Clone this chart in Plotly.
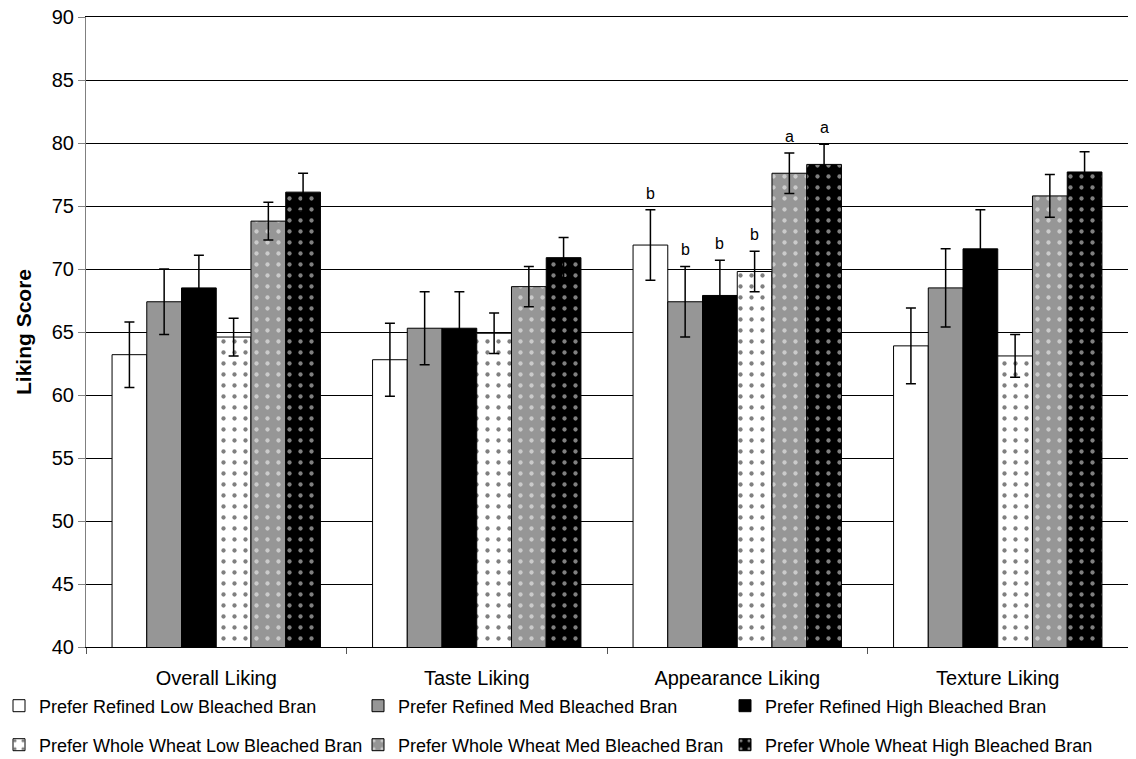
import plotly.graph_objects as go

categories = ["Overall Liking", "Taste Liking", "Appearance Liking", "Texture Liking"]
series_names = [
    "Prefer Refined Low Bleached Bran",
    "Prefer Refined Med Bleached Bran",
    "Prefer Refined High Bleached Bran",
    "Prefer Whole Wheat Low Bleached Bran",
    "Prefer Whole Wheat Med Bleached Bran",
    "Prefer Whole Wheat High Bleached Bran",
]
refined_low = [63.2, 62.8, 71.9, 63.9]
refined_med = [67.4, 65.3, 67.4, 68.5]
refined_high = [68.5, 65.3, 67.9, 71.6]
ww_low = [64.6, 64.9, 69.8, 63.1]
ww_med = [73.8, 68.6, 77.6, 75.8]
ww_high = [76.1, 70.9, 78.3, 77.7]

err_refined_low = [2.6, 2.9, 2.8, 3.0]
err_refined_med = [2.6, 2.9, 2.8, 3.1]
err_refined_high = [2.6, 2.9, 2.8, 3.1]
err_ww_low = [1.5, 1.6, 1.6, 1.7]
err_ww_med = [1.5, 1.6, 1.6, 1.7]
err_ww_high = [1.5, 1.6, 1.6, 1.6]

# significance letters (only for Appearance Liking)
letters_category = "Appearance Liking"
letters = ["b", "b", "b", "b", "a", "a"]

values = [refined_low, refined_med, refined_high, ww_low, ww_med, ww_high]
errors = [err_refined_low, err_refined_med, err_refined_high, err_ww_low, err_ww_med, err_ww_high]

# styles: (background, dot colour or None)
styles = [
    ("#ffffff", None),
    ("#969696", None),
    ("#000000", None),
    ("#ffffff", "#000000"),
    ("#969696", "#ffffff"),
    ("#000000", "#ffffff"),
]

FONT = "Liberation Sans, Arial, sans-serif"
BARGAP = 0.2
x_idx = list(range(len(categories)))

# the page body has an 8 px margin, so the figure is drawn 8 px in from the top-left
W, H = 1128, 751
legend_cols_px = [4, 363, 730]
legend_rows_px = [698, 737]

fig = go.Figure()
legend_layout = {}
for k, (name, vals, errs, (bg, dot)) in enumerate(zip(series_names, values, errors, styles)):
    marker = dict(color=bg, line=dict(color="#000000", width=1))
    if dot:
        marker["pattern"] = dict(shape=".", fgcolor=dot, bgcolor=bg, size=11,
                                 solidity=0.12, fillmode="overlay")
    lname = "legend" if k == 0 else f"legend{k + 1}"
    fig.add_trace(go.Bar(
        x=x_idx, y=vals, name=name, marker=marker,
        error_y=dict(type="data", array=errs, visible=True, color="#000000",
                     thickness=1.5, width=5),
        legend=lname,
    ))
    col, row = k % 3, k // 3
    legend_layout[lname] = dict(
        xref="container", yref="container",
        x=legend_cols_px[col] / W, y=1 - legend_rows_px[row] / H,
        xanchor="left", yanchor="middle", orientation="h",
        font=dict(family=FONT, size=18, color="#000000"),
        itemwidth=30, indentation=-13,
        bgcolor="rgba(0,0,0,0)", borderwidth=0,
    )

# letters above the appearance bars
n = len(series_names)
bw = (1 - BARGAP) / n
ci = categories.index(letters_category)
for k, lt in enumerate(letters):
    fig.add_annotation(
        x=ci + (k - (n - 1) / 2) * bw, y=values[k][ci] + errors[k][ci],
        xref="x", yref="y", text=lt, showarrow=False, yanchor="bottom", yshift=6,
        font=dict(family=FONT, size=16, color="#000000"),
    )

fig.update_layout(
    width=W, height=H,
    margin=dict(l=78, r=8, t=9, b=112, autoexpand=False),
    paper_bgcolor="#ffffff", plot_bgcolor="#ffffff",
    barmode="group", bargap=BARGAP, bargroupgap=0,
    font=dict(family=FONT, color="#000000"),
    showlegend=True,
    xaxis=dict(
        range=[-0.5, 3.5], tickmode="array", tickvals=x_idx, ticktext=categories,
        ticks="", showgrid=False, zeroline=False,
        showline=True, mirror=True, linecolor="#000000", linewidth=1,
        ticklabelstandoff=13,
        tickfont=dict(family=FONT, size=20, color="#000000"),
        minor=dict(tickmode="array", tickvals=[-0.5, 0.5, 1.5, 2.5, 3.5],
                   ticks="outside", ticklen=6, tickcolor="#555555", tickwidth=1,
                   showgrid=False),
    ),
    yaxis=dict(
        range=[40, 90], tickmode="array", tickvals=list(range(40, 91, 5)),
        showgrid=True, gridcolor="#000000", gridwidth=1, zeroline=False,
        showline=True, linecolor="#808080", linewidth=1,
        ticks="outside", ticklen=7, tickcolor="#808080",
        ticklabeloverflow="allow",
        tickfont=dict(family=FONT, size=20, color="#000000"),
        title=dict(text="<b>Liking Score</b>", standoff=14,
                   font=dict(family=FONT, size=21, color="#000000")),
    ),
    **legend_layout,
)

fig.write_html("out.html")
